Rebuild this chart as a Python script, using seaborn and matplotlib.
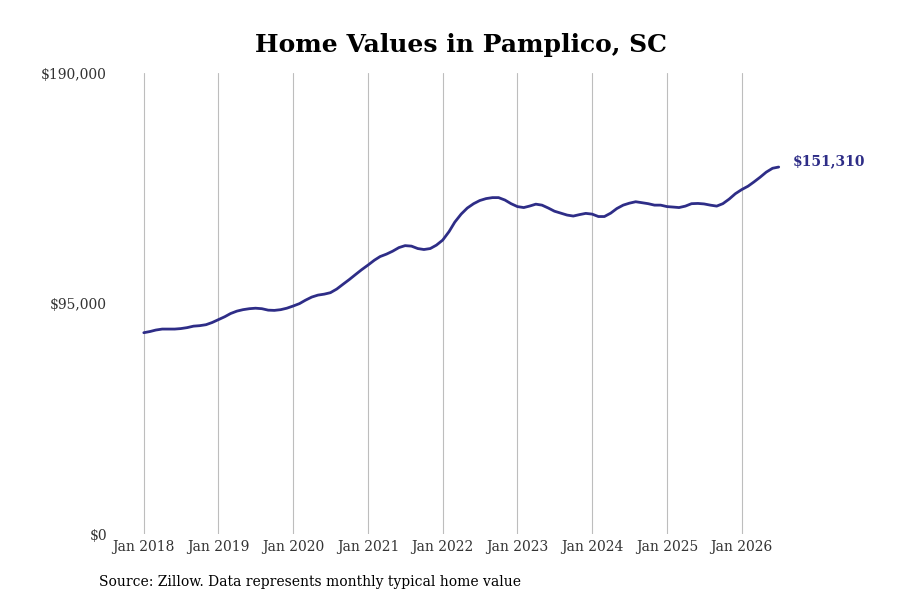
import pandas as pd
import numpy as np
import seaborn as sns
import matplotlib.pyplot as plt
import matplotlib.dates as mdates

# Monthly typical home value, Jan 2018 - Jul 2026
start_month = "2018-01-01"
values = [
    83000, 83500, 84100, 84500, 84500, 84500, 84700, 85100, 85700, 85900, 86300, 87200,
    88400, 89600, 90900, 91900, 92500, 92900, 93100, 92900, 92300, 92200, 92500, 93100,
    94000, 95000, 96400, 97700, 98500, 98900, 99500, 101000, 103000, 104900, 107000, 109000,
    110900, 112900, 114400, 115400, 116600, 118100, 118900, 118700, 117700, 117300, 117700, 119100,
    121200, 124700, 128600, 131900, 134400, 136200, 137500, 138300, 138700, 138700, 137700, 136200,
    135000, 134600, 135200, 136000, 135600, 134400, 133100, 132300, 131500, 131100, 131700, 132200,
    131900, 130900, 130900, 132300, 134200, 135600, 136400, 137000, 136600, 136200, 135600, 135600,
    135000, 134800, 134600, 135200, 136200, 136300, 136100, 135600, 135200, 136200, 138100, 140300,
    142000, 143400, 145100, 147100, 149200, 150800, 151310,
]
y_ticks = [0, 95000, 190000]
y_labels = ["$0", "$95,000", "$190,000"]
tick_years = list(range(2018, 2027))

title = "Home Values in Pamplico, SC"
source = "Source: Zillow. Data represents monthly typical home value"
line_color = "#2e2d87"

df = pd.DataFrame({
    "date": pd.date_range(start_month, periods=len(values), freq="MS"),
    "value": values,
})

sns.set_style("white")
plt.rcParams["font.family"] = ["DejaVu Serif"]

fig = plt.figure(figsize=(9, 6), dpi=100)
ax = fig.add_axes([0.125, 0.11, 0.775, 0.768])

sns.lineplot(data=df, x="date", y="value", ax=ax, color=line_color, linewidth=2.0)

# end label
last = df.iloc[-1]
ax.annotate(f"${last['value']:,.0f}", xy=(last["date"], last["value"]),
            xytext=(10, 4), textcoords="offset points", ha="left", va="center",
            fontsize=10, fontweight="bold", color=line_color)

ax.set_ylim(0, 190000)
ax.set_yticks(y_ticks)
ax.set_yticklabels(y_labels)
ax.set_xlim(pd.Timestamp("2017-08-01"), pd.Timestamp("2026-12-01"))
ax.set_xticks([pd.Timestamp(f"{yr}-01-01") for yr in tick_years])
ax.xaxis.set_major_formatter(mdates.DateFormatter("Jan %Y"))

ax.grid(axis="x", color="#bdbdbd", linewidth=0.8)
ax.grid(axis="y", visible=False)
for s in ax.spines.values():
    s.set_visible(False)
ax.tick_params(axis="both", length=0, labelsize=10, colors="#333333")
ax.tick_params(axis="y", pad=4)
ax.tick_params(axis="x", pad=4)
ax.set_xlabel("")
ax.set_ylabel("")

fig.suptitle(title, x=0.512, y=0.945, fontsize=18, fontweight="bold", color="black")
fig.text(0.11, 0.03, source, fontsize=10, ha="left", va="center", color="black")

fig.savefig("out.png", dpi=100)
